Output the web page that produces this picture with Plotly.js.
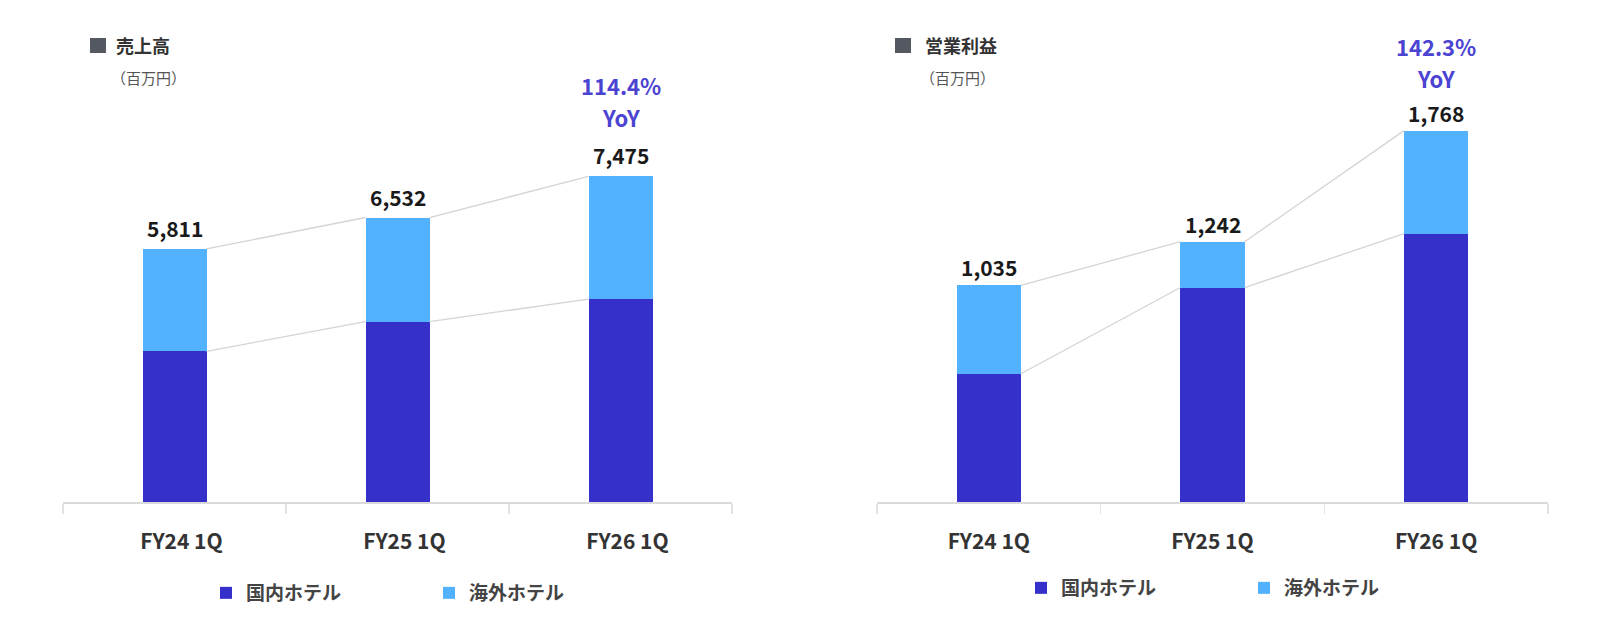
<!DOCTYPE html>
<html>
<head>
<meta charset="utf-8">
<script src="https://cdn.plot.ly/plotly-3.0.1.min.js"></script>
<style>
  html, body { margin: 0; padding: 0; background: #fff; }
  #chart { width: 1600px; height: 630px; }
</style>
</head>
<body>
<div id="chart"></div>
<script>
/* global Plotly */
// data (百万円)
const quarters = ['FY24 1Q', 'FY25 1Q', 'FY26 1Q'];
const seriesNames = ['国内ホテル', '海外ホテル'];

const salesDomestic = [3459, 4143, 4658];
const salesOverseas = [2352, 2389, 2817];
const salesYoY = '114.4%';

const profitDomestic = [617, 1025, 1280];
const profitOverseas = [418, 217, 488];
const profitYoY = '142.3%';

(function () {
  const W = 1600;
  const H = 630;
  const FONT = '"Noto Sans CJK JP", "Noto Sans", sans-serif';
  const DOMESTIC = '#3430c9';
  const OVERSEAS = '#52b2ff';
  const ACCENT = '#4b43d2';
  const BAR_W = 0.287;

  // pixel -> paper helpers
  const px = function (x) { return x / W; };
  const py = function (y) { return 1 - y / H; };

  const xs = quarters.map(function (q, i) { return i; });

  const sumOf = function (a, b) {
    return a.map(function (v, i) { return v + b[i]; });
  };

  // thin grey lines joining the tops of neighbouring bars
  const connector = function (tops, xaxis, yaxis) {
    const half = BAR_W / 2;
    const x = [];
    const y = [];
    for (let i = 0; i < tops.length - 1; i++) {
      x.push(i + half, i + 1 - half, null);
      y.push(tops[i], tops[i + 1], null);
    }
    return {
      type: 'scatter', mode: 'lines', x: x, y: y,
      xaxis: xaxis, yaxis: yaxis,
      line: { color: '#d4d4d4', width: 1.3 },
      hoverinfo: 'skip', showlegend: false
    };
  };

  const barTrace = function (values, name, color, xaxis, yaxis, legend) {
    return {
      type: 'bar', x: xs, y: values, name: name,
      width: BAR_W, xaxis: xaxis, yaxis: yaxis, legend: legend,
      marker: { color: color, line: { width: 0 } },
      hoverinfo: 'y'
    };
  };

  const salesTotal = sumOf(salesDomestic, salesOverseas);
  const profitTotal = sumOf(profitDomestic, profitOverseas);

  const traces = [
    barTrace(salesDomestic, seriesNames[0], DOMESTIC, 'x', 'y', 'legend'),
    barTrace(salesOverseas, seriesNames[1], OVERSEAS, 'x', 'y', 'legend'),
    barTrace(profitDomestic, seriesNames[0], DOMESTIC, 'x2', 'y2', 'legend2'),
    barTrace(profitOverseas, seriesNames[1], OVERSEAS, 'x2', 'y2', 'legend2'),
    connector(salesTotal, 'x', 'y'),
    connector(salesDomestic, 'x', 'y'),
    connector(profitTotal, 'x2', 'y2'),
    connector(profitDomestic, 'x2', 'y2')
  ];

  const xAxis = function (left, right, shift) {
    return {
      domain: [px(left), px(right)],
      range: [-0.5, 2.5],
      tickvals: xs,
      ticktext: quarters,
      ticks: '',
      ticklabelstandoff: 20,
      ticklabelshift: shift,
      tickfont: { family: FONT, size: 21, color: '#333', weight: 700 },
      showline: true, linecolor: '#dadada', linewidth: 2,
      showgrid: false, zeroline: false, fixedrange: true,
      minor: { tick0: -0.5, dtick: 1, ticks: 'outside', ticklen: 10, tickcolor: '#e2e2e2', tickwidth: 1.5, showgrid: false }
    };
  };

  const yAxis = function (bottom, max, anchor) {
    return {
      domain: [py(bottom), py(100)],
      range: [0, max],
      visible: false, showgrid: false, zeroline: false, fixedrange: true,
      anchor: anchor
    };
  };

  const valueLabels = function (totals, xref, yref, shift) {
    return totals.map(function (t, i) {
      return {
        xref: xref, yref: yref, x: i, y: t,
        text: t.toLocaleString('en-US'),
        showarrow: false, yanchor: 'bottom', yshift: shift,
        font: { family: FONT, size: 21, color: '#1a1a1a', weight: 700 }
      };
    });
  };

  // growth rate and "YoY" as two lines above the latest bar
  const yoyLabels = function (totals, text, xref, yref, shift) {
    const last = totals.length - 1;
    return [text, 'YoY'].map(function (line, k) {
      return {
        xref: xref, yref: yref, x: last, y: totals[last],
        text: line,
        showarrow: false, yanchor: 'middle', yshift: shift + (k === 0 ? 32 : 0),
        font: { family: FONT, size: 22, color: ACCENT, weight: 700 }
      };
    });
  };

  const heading = function (x, text) {
    return [{
      xref: 'paper', yref: 'paper', x: px(x), y: py(45),
      xanchor: 'left', yanchor: 'middle', text: text, showarrow: false,
      font: { family: FONT, size: 18, color: '#333', weight: 700 }
    }, {
      xref: 'paper', yref: 'paper', x: px(x - 5), y: py(77),
      xanchor: 'left', yanchor: 'middle', text: '（百万円）', showarrow: false,
      font: { family: FONT, size: 15, color: '#555' }
    }];
  };

  const headingBox = function (x) {
    return {
      type: 'rect', xref: 'paper', yref: 'paper',
      x0: px(x), x1: px(x + 16), y0: py(53), y1: py(38),
      fillcolor: '#545861', line: { width: 0 }
    };
  };

  const legendStyle = function (x, y) {
    return {
      orientation: 'h', x: px(x), y: py(y),
      xanchor: 'left', yanchor: 'middle',
      entrywidth: 178, entrywidthmode: 'pixels',
      itemwidth: 30, traceorder: 'normal',
      font: { family: FONT, size: 19, color: '#444', weight: 700 },
      bgcolor: 'rgba(0,0,0,0)', borderwidth: 0
    };
  };

  const layout = {
    width: W, height: H,
    margin: { l: 0, r: 0, t: 0, b: 0 },
    paper_bgcolor: '#fff', plot_bgcolor: '#fff',
    barmode: 'stack',
    font: { family: FONT },
    xaxis: xAxis(63, 732, 7),
    yaxis: yAxis(502, 9230, 'x'),
    xaxis2: xAxis(877, 1548, 0),
    yaxis2: yAxis(504, 1913, 'x2'),
    legend: legendStyle(206, 593),
    legend2: legendStyle(1021, 588),
    shapes: [headingBox(90), headingBox(895)],
    annotations: []
      .concat(heading(114, '売上高'))
      .concat(heading(923, '営業利益'))
      .concat(valueLabels(salesTotal, 'x', 'y', 4))
      .concat(valueLabels(profitTotal, 'x2', 'y2', 1))
      .concat(yoyLabels(salesTotal, salesYoY, 'x', 'y', 59))
      .concat(yoyLabels(profitTotal, profitYoY, 'x2', 'y2', 53))
  };

  Plotly.newPlot('chart', traces, layout, { staticPlot: true, displayModeBar: false });
})();
</script>
</body>
</html>
